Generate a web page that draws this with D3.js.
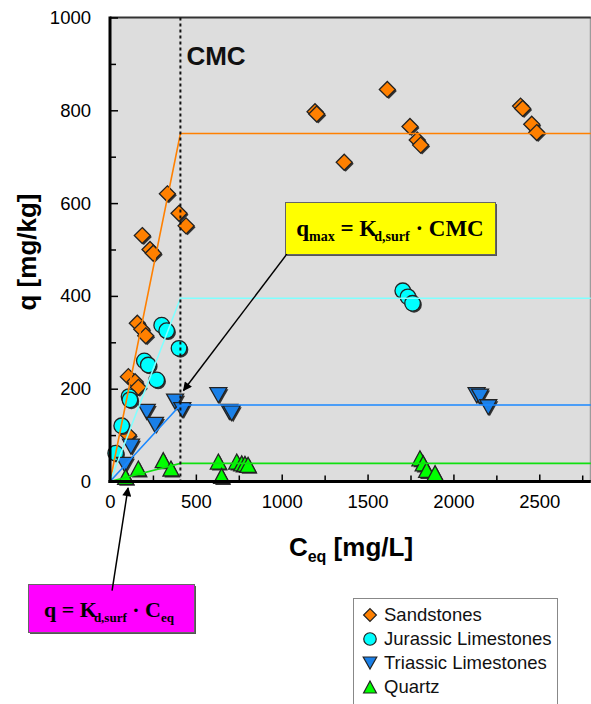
<!DOCTYPE html>
<html>
<head>
<meta charset="utf-8">
<script src="https://cdn.jsdelivr.net/npm/d3@7"></script>
<style>
  html, body { margin: 0; padding: 0; background: #ffffff; }
  svg { display: block; }
</style>
</head>
<body>
<script>
// ---------------- DATA ----------------
const xTicks = [0, 500, 1000, 1500, 2000, 2500];
const yTicks = [0, 200, 400, 600, 800, 1000];
const cmc = 410;

const sandstoneX = [159, 185, 208, 107, 146, 165, 107, 334, 402, 443, 188, 233, 252, 1194, 1204, 1615, 1364, 1747, 1789, 1809, 2391, 2403, 2456, 2485];
const sandstoneY = [341, 328, 314, 226, 215, 203, 100, 620, 578, 551, 530, 500, 492, 797, 792, 845, 688, 765, 736, 725, 809, 804, 770, 752];

const jurassicX = [301, 330, 402, 200, 223, 272, 111, 116, 68, 33, 1705, 1735, 1762];
const jurassicY = [337, 325, 287, 260, 251, 219, 183, 176, 120, 61, 411, 398, 384];

const triassicX = [214, 262, 379, 421, 122, 87, 631, 695, 709, 2135, 2155, 2203];
const triassicY = [150, 122, 172, 154, 75, 36, 186, 150, 147, 186, 183, 160];

const quartzX = [165, 91, 310, 355, 631, 650, 738, 767, 786, 804, 1805, 1824, 1844, 1893];
const quartzY = [28, 10, 46, 28, 43, 12, 43, 39, 38, 36, 50, 39, 25, 18];

// fitted lines: linear up to CMC, then plateau
const fitX = [0, cmc, 2800];
const sandstoneFit = [0, 750, 750];
const jurassicFit = [0, 395, 395];
const triassicFit = [0, 165, 165];
const quartzFit = [0, 39, 39];

const seriesNames = ["Sandstones", "Jurassic Limestones", "Triassic Limestones", "Quartz"];
const seriesColors = ["#ff8000", "#00ffff", "#1a80e8", "#00ff00"];
const lineColors = ["#ff8000", "#80ffff", "#1a88ff", "#10e010"];
const seriesShapes = ["diamond", "circle", "down", "up"];

// ---------------- SETUP ----------------
const W = 591, H = 704;
const svg = d3.select("body").append("svg").attr("width", W).attr("height", H)
  .style("font-family", "Arial, 'Liberation Sans', sans-serif");

const x = d3.scaleLinear().domain([0, 2800]).range([110, 590.8]);
const y = d3.scaleLinear().domain([0, 1000]).range([481.5, 17.5]);

// plot background
svg.append("rect").attr("x", x(0)).attr("y", y(1000))
  .attr("width", x(2800) - x(0)).attr("height", y(0) - y(1000))
  .attr("fill", "#dddddd");
// right border
svg.append("line").attr("x1", x(2800) - 0.5).attr("x2", x(2800) - 0.5)
  .attr("y1", y(1000)).attr("y2", y(0)).attr("stroke", "#8a8a8a").attr("stroke-width", 1);
// top border
svg.append("line").attr("x1", x(0)).attr("x2", x(2800))
  .attr("y1", y(1000)).attr("y2", y(1000)).attr("stroke", "#333").attr("stroke-width", 2);

// marker shapes
function shapePath(shape, s) {
  if (shape === "diamond") { const r = 8 * s; return `M0,${-r}L${r},0L0,${r}L${-r},0Z`; }
  if (shape === "circle") { const r = 7.8 * s; return `M${r},0A${r},${r},0,1,1,${-r},0A${r},${r},0,1,1,${r},0Z`; }
  if (shape === "down") { const w = 8.5 * s, h = 7.5 * s; return `M${-w},${-h}L${w},${-h}L0,${h}Z`; }
  if (shape === "up") { const w = 8 * s, h = 7.5 * s; return `M0,${-h}L${w},${h}L${-w},${h}Z`; }
}

const allX = [sandstoneX, jurassicX, triassicX, quartzX];
const allY = [sandstoneY, jurassicY, triassicY, quartzY];
const allFit = [sandstoneFit, jurassicFit, triassicFit, quartzFit];

const markG = svg.append("g");
allX.forEach((xs, i) => {
  const pts = xs.map((v, j) => [v, allY[i][j]]);
  const g = markG.append("g");
  g.selectAll("path.sh").data(pts).join("path").attr("class", "sh")
    .attr("d", shapePath(seriesShapes[i], 1))
    .attr("transform", d => `translate(${x(d[0]) + 1.5},${y(d[1]) + 1.5})`)
    .attr("fill", "#333");
  g.selectAll("path.mk").data(pts).join("path").attr("class", "mk")
    .attr("d", shapePath(seriesShapes[i], 1))
    .attr("transform", d => `translate(${x(d[0])},${y(d[1])})`)
    .attr("fill", seriesColors[i]).attr("stroke", "#222").attr("stroke-width", 1.3);
});

// fitted lines
const lineGen = d3.line().x(d => x(d[0])).y(d => y(d[1]));
allFit.forEach((f, i) => {
  svg.append("path").datum(fitX.map((v, j) => [v, f[j]]))
    .attr("d", lineGen).attr("fill", "none")
    .attr("stroke", lineColors[i]).attr("stroke-width", 1.6);
});

// CMC dashed line
svg.append("line").attr("x1", x(cmc)).attr("x2", x(cmc))
  .attr("y1", y(1000)).attr("y2", y(0))
  .attr("stroke", "#111").attr("stroke-width", 2).attr("stroke-dasharray", "3,3");
svg.append("text").attr("x", x(cmc) + 6).attr("y", 65)
  .attr("font-size", 26).attr("font-weight", "bold").attr("fill", "#111").text("CMC");

// axes
const fmt = d3.format("d");
const yAxis = d3.axisLeft(y).tickValues(yTicks).tickFormat(fmt).tickSize(-8).tickSizeOuter(0).tickPadding(19);
const yMinor = d3.axisLeft(y).tickValues(d3.range(100, 1000, 200)).tickSize(-6).tickSizeOuter(0).tickFormat("");
const xAxis = d3.axisBottom(x).tickValues(xTicks).tickFormat(fmt).tickSize(-7).tickSizeOuter(0).tickPadding(13);
const xMinor = d3.axisBottom(x).tickValues(d3.range(250, 2800, 500)).tickSize(-6).tickSizeOuter(0).tickFormat("");

function styleAxis(g) {
  g.select(".domain").remove();
  g.selectAll(".tick line").attr("stroke", "#000").attr("stroke-width", 1.5);
  g.selectAll(".tick text").attr("font-size", 18.5).attr("fill", "#000")
    .style("font-family", "Arial, 'Liberation Sans', sans-serif");
}
svg.append("g").attr("transform", `translate(${x(0)},0)`).call(yAxis).call(styleAxis);
svg.append("g").attr("transform", `translate(${x(0)},0)`).call(yMinor).call(styleAxis);
svg.append("g").attr("transform", `translate(0,${y(0)})`).call(xAxis).call(styleAxis);
svg.append("g").attr("transform", `translate(0,${y(0)})`).call(xMinor).call(styleAxis);

// thick axis lines
svg.append("line").attr("x1", x(0)).attr("x2", x(0)).attr("y1", y(1000) - 1).attr("y2", y(0) + 1.5)
  .attr("stroke", "#000").attr("stroke-width", 3);
svg.append("line").attr("x1", x(0) - 1.5).attr("x2", x(2800)).attr("y1", y(0)).attr("y2", y(0))
  .attr("stroke", "#000").attr("stroke-width", 3);

// axis titles
svg.append("text").attr("transform", `translate(36,252) rotate(-90)`)
  .attr("text-anchor", "middle").attr("font-size", 26).attr("font-weight", "bold").text("q [mg/kg]");
const xt = svg.append("text").attr("x", 351).attr("y", 556).attr("text-anchor", "middle")
  .attr("font-size", 26).attr("font-weight", "bold");
xt.append("tspan").text("C");
xt.append("tspan").attr("font-size", 16).attr("dy", 6).text("eq");
xt.append("tspan").attr("dy", -6).text(" [mg/L]");

// arrowhead marker
const defs = svg.append("defs");
defs.append("marker").attr("id", "arr").attr("viewBox", "0 0 10 10")
  .attr("refX", 9).attr("refY", 5).attr("markerWidth", 12).attr("markerHeight", 9)
  .attr("markerUnits", "userSpaceOnUse").attr("orient", "auto")
  .append("path").attr("d", "M0,0L10,5L0,10Z").attr("fill", "#000");

// annotation: qmax box
const yb = svg.append("g");
yb.append("rect").attr("x", 287).attr("y", 204).attr("width", 210).attr("height", 52)
  .attr("fill", "#555");
yb.append("rect").attr("x", 285.5).attr("y", 202.5).attr("width", 210).attr("height", 52)
  .attr("fill", "#ffff00").attr("stroke", "#666").attr("stroke-width", 1);
const t1 = yb.append("text").attr("x", 390).attr("y", 236).attr("text-anchor", "middle")
  .style("font-family", "'Liberation Serif', 'Times New Roman', serif")
  .attr("font-weight", "bold").attr("font-size", 23).attr("fill", "#000");
t1.append("tspan").text("q");
t1.append("tspan").attr("font-size", 14).attr("dy", 5).text("max");
t1.append("tspan").attr("dy", -5).text(" = K");
t1.append("tspan").attr("font-size", 14).attr("dy", 5).attr("dx", -3).text("d,surf");
t1.append("tspan").attr("dy", -5).text(" · CMC");
svg.append("line").attr("x1", x(1030)).attr("y1", y(490)).attr("x2", x(428)).attr("y2", y(196))
  .attr("stroke", "#000").attr("stroke-width", 1.5).attr("marker-end", "url(#arr)");

// annotation: Kd box
const mb = svg.append("g");
svg.append("line").attr("x1", x(12)).attr("y1", y(-235)).attr("x2", x(105)).attr("y2", y(-14))
  .attr("stroke", "#000").attr("stroke-width", 1.5).attr("marker-end", "url(#arr)");
mb.append("rect").attr("x", 30).attr("y", 586).attr("width", 166).attr("height", 48).attr("fill", "#555");
mb.append("rect").attr("x", 28.5).attr("y", 584.5).attr("width", 166).attr("height", 48)
  .attr("fill", "#ff00ff").attr("stroke", "#666").attr("stroke-width", 1);
const t2 = mb.append("text").attr("x", 109).attr("y", 617).attr("text-anchor", "middle")
  .style("font-family", "'Liberation Serif', 'Times New Roman', serif")
  .attr("font-weight", "bold").attr("font-size", 22).attr("fill", "#000");
t2.append("tspan").text("q = K");
t2.append("tspan").attr("font-size", 13).attr("dy", 5).attr("dx", -3).text("d,surf");
t2.append("tspan").attr("dy", -5).text(" · C");
t2.append("tspan").attr("font-size", 13).attr("dy", 5).text("eq");

// legend
const lg = svg.append("g");
lg.append("rect").attr("x", 353.5).attr("y", 598.5).attr("width", 204).attr("height", 110)
  .attr("fill", "#fff").attr("stroke", "#888").attr("stroke-width", 1);
seriesNames.forEach((n, i) => {
  const cy = 615 + i * 24;
  lg.append("path").attr("d", shapePath(seriesShapes[i], 0.8))
    .attr("transform", `translate(370,${cy})`)
    .attr("fill", seriesColors[i]).attr("stroke", "#222").attr("stroke-width", 1.2);
  lg.append("text").attr("x", 384).attr("y", cy + 6).attr("font-size", 18.5).attr("fill", "#111").text(n);
});
</script>
</body>
</html>
